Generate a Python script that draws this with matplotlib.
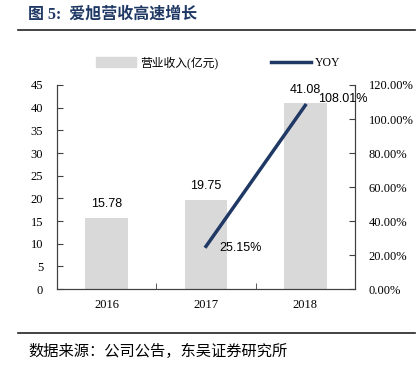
import numpy as np
import matplotlib.pyplot as plt
from matplotlib.lines import Line2D
from matplotlib.patches import Patch

plt.rcParams['font.family'] = ['Liberation Serif', 'Noto Sans CJK SC', 'DejaVu Sans']

years = ['2016', '2017', '2018']
revenue = [15.78, 19.75, 41.08]
yoy_years = ['2017', '2018']
yoy = [25.15, 108.01]

bar_color = '#d9d9d9'
line_color = '#1f3864'
cjk = ['Noto Sans CJK SC', 'DejaVu Sans']

fig = plt.figure(figsize=(4.2, 3.76), dpi=100)
ax = fig.add_axes([0.136, 0.231, 0.709, 0.543])
ax2 = ax.twinx()

x = np.arange(len(years))
ax.bar(x, revenue, width=0.43, color=bar_color, zorder=1)
for xi, v in zip(x, revenue):
    ax.text(xi, v + 1.6, f'{v:.2f}', ha='center', va='bottom',
            fontsize=9, family='Liberation Sans')

ax.set_xlim(-0.5, 2.5)
ax.set_ylim(0, 45)
ax.set_yticks(np.arange(0, 46, 5))
ax.set_xticks(x)
ax.set_xticklabels(years)
ax.set_xticks([0.5, 1.5], minor=True)
ax.tick_params(axis='x', which='major', length=0, labelsize=9, pad=7)
ax.tick_params(axis='x', which='minor', length=4, color='#404040', direction='in')
ax.tick_params(axis='y', labelsize=9, length=4, color='#404040', direction='in', pad=10)

xl = [years.index(y) for y in yoy_years]
ax2.plot(xl, yoy, color=line_color, lw=2.5, zorder=3)
ax2.text(xl[0] + 0.13, yoy[0] - 1, f'{yoy[0]:.2f}%', ha='left', va='center',
         fontsize=9, family='Liberation Sans')
ax2.text(xl[1] + 0.13, yoy[1] + 4, f'{yoy[1]:.2f}%', ha='left', va='center',
         fontsize=9, family='Liberation Sans')
ax2.set_ylim(0, 120)
ax2.set_yticks(np.arange(0, 121, 20))
ax2.set_yticklabels([f'{v:.2f}%' for v in np.arange(0, 121, 20)])
ax2.tick_params(axis='y', labelsize=9, length=4, color='#404040', direction='in', pad=10)

for a in (ax, ax2):
    a.spines['top'].set_visible(False)
    for s in ('left', 'right', 'bottom'):
        a.spines[s].set_color('#404040')
        a.spines[s].set_linewidth(0.8)

handles = [Patch(color=bar_color), Line2D([0], [0], color=line_color, lw=2.5)]
fig.legend(handles, ['营业收入(亿元)', 'YOY'], loc='center', ncol=2,
           bbox_to_anchor=(0.52, 0.833), frameon=False, fontsize=8.5,
           handlelength=3.4, handleheight=0.9, columnspacing=4.5, handletextpad=0.3)

fig.text(0.067, 0.962, '图 5:  爱旭营收高速增长', fontsize=11.5, fontweight='bold',
         color='#1f3864', va='center', family=['Liberation Serif', 'Noto Sans CJK SC'])
fig.add_artist(Line2D([0.043, 0.988], [0.92, 0.92], color='#222222', lw=1.2))
fig.add_artist(Line2D([0.043, 0.988], [0.114, 0.114], color='#222222', lw=1.2))
fig.text(0.067, 0.064, '数据来源：公司公告，东吴证券研究所', fontsize=11,
         va='center', family=cjk)

fig.savefig('out.png', dpi=100)
